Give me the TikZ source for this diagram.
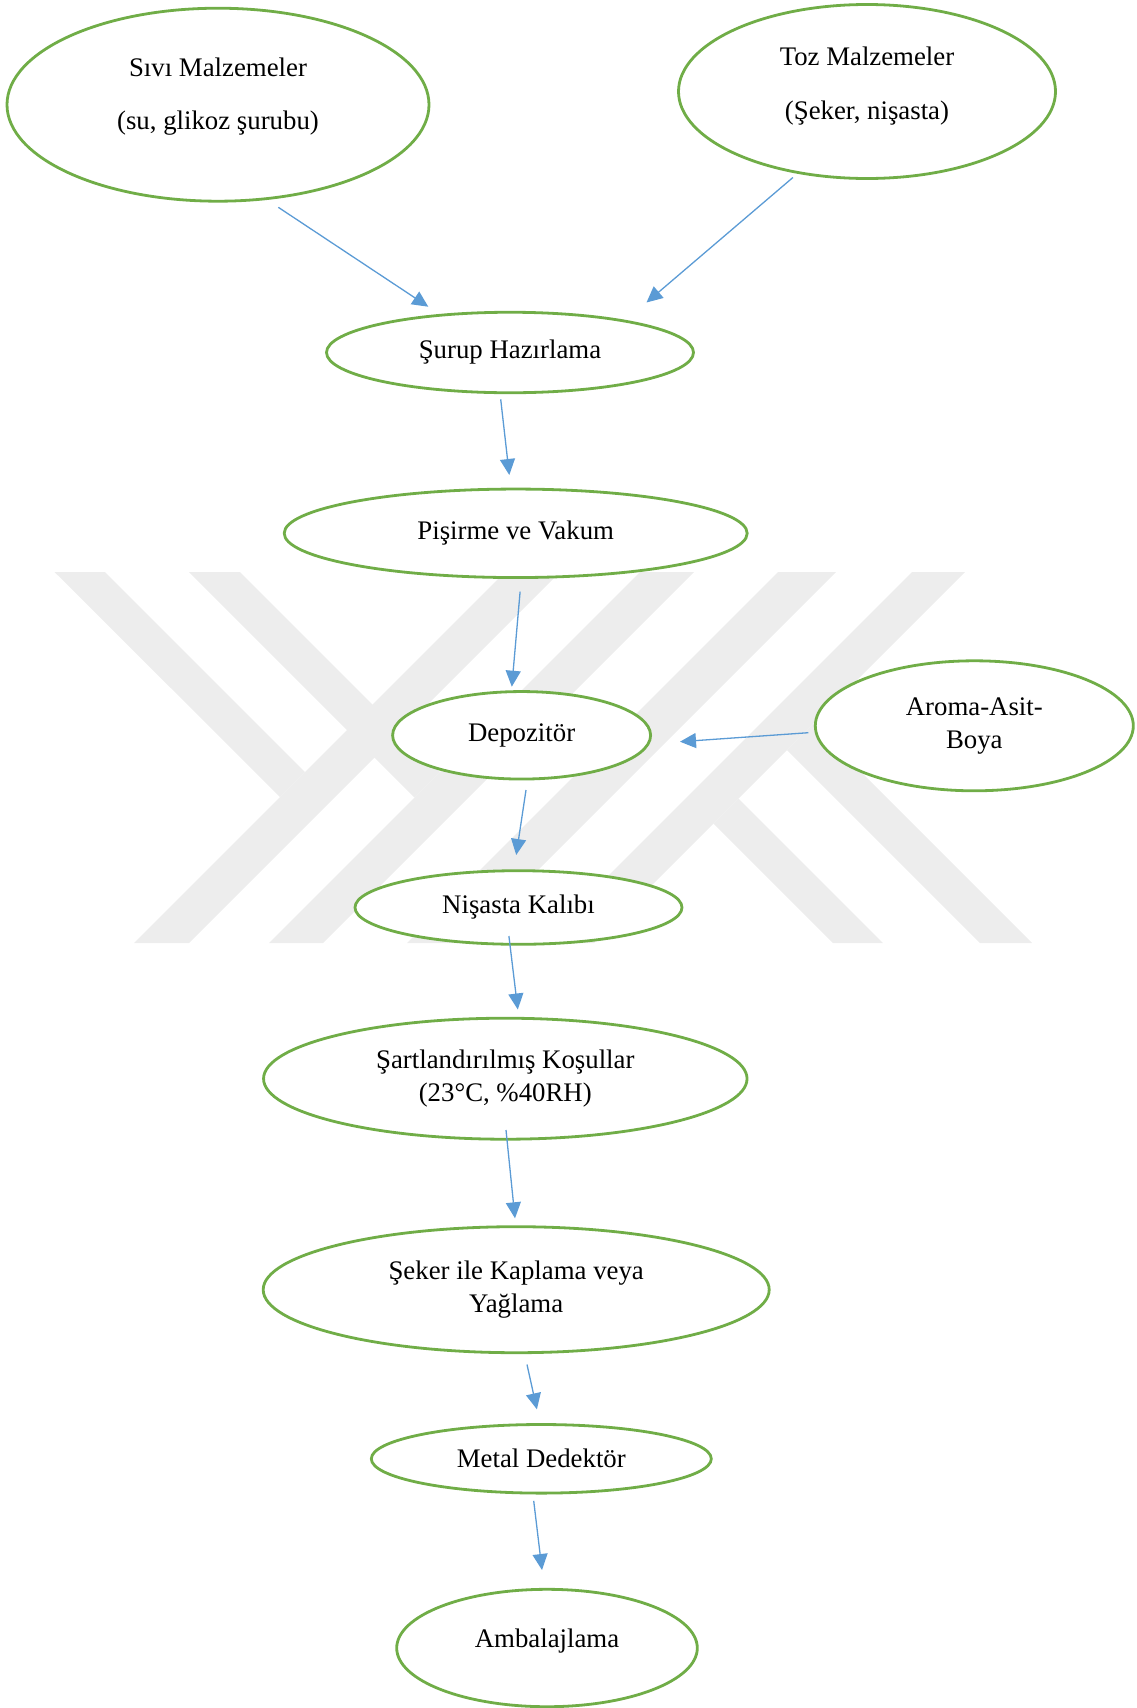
\documentclass[tikz,border=0pt]{standalone}
\usepackage{fontspec}
\setmainfont{Liberation Serif}
\usetikzlibrary{shapes.geometric,arrows.meta}
\definecolor{stageline}{HTML}{70AD47}
\definecolor{flowline}{HTML}{5B9BD5}
\colorlet{logo}{black!7}
\tikzset{
  stage/.style={ellipse,draw=stageline,line width=2.8pt,fill=white,inner sep=0pt,
    align=center,font=\fontsize{26.8}{32.7}\selectfont},
  flow/.style={-{Triangle[length=16pt,width=15pt]},draw=flowline,line width=1.3pt},
}

\begin{document}
\begin{tikzpicture}[x=1pt,y=-1pt]
  \path[use as bounding box] (0,0) rectangle (1137,1708);

  % watermark behind the chart
  \fill[logo] (54.5,572) -- (105,572) -- (305,772) -- (280,797) -- cycle;
  \fill[logo] (189,572) -- (240,572) -- (440,772) -- (414.5,797.5) -- cycle;
  \fill[logo] (505,572) -- (560,572) -- (189,943) -- (134,943) -- cycle;
  \fill[logo] (640,572) -- (694,572) -- (323,943) -- (269,943) -- cycle;
  \fill[logo] (778,572) -- (836,572) -- (465,943) -- (407,943) -- cycle;
  \fill[logo] (912,572) -- (965,572) -- (594,943) -- (541,943) -- cycle;
  \fill[logo] (738.5,798.5) -- (883,943) -- (833,943) -- (713.5,823.5) -- cycle;
  \fill[logo] (813,724) -- (1032,943) -- (980,943) -- (787,750) -- cycle;

  % stages
  \node[stage,minimum width=422,minimum height=193] (siv) at (218,104.7)
    {Sıvı Malzemeler\\[20.3pt](su, glikoz şurubu)\rule[-22pt]{0pt}{0pt}};
  \node[stage,minimum width=377,minimum height=174] (toz) at (867,91.5)
    {Toz Malzemeler\\[20.7pt](Şeker, nişasta)\rule[-17pt]{0pt}{0pt}};
  \node[stage,minimum width=367,minimum height=80.5] (surup) at (510,352.5) {Şurup Hazırlama};
  \node[stage,minimum width=463,minimum height=88.5] (pisirme) at (515.7,533.3) {Pişirme ve Vakum};
  \node[stage,minimum width=258,minimum height=87.5] (depo) at (521.6,735.3) {Depozitör};
  \node[stage,minimum width=318,minimum height=130] (aroma) at (974.3,725.8) {Aroma-Asit-\\Boya};
  \node[stage,minimum width=327,minimum height=73.6] (kalip) at (518.5,907.5) {Nişasta Kalıbı};
  \node[stage,minimum width=483.5,minimum height=121] (kosul) at (505.3,1078.7)
    {Şartlandırılmış Koşullar\\(23°C, \%40RH)};
  \node[stage,minimum width=506,minimum height=126] (kaplama) at (516.2,1289.7)
    {Şeker ile Kaplama veya\\Yağlama};
  \node[stage,minimum width=340,minimum height=68.6] (metal) at (541.3,1458.8) {Metal Dedektör};
  \node[stage,minimum width=300.6,minimum height=117.4] (ambalaj) at (547,1648)
    {Ambalajlama\rule[-20.5pt]{0pt}{0pt}};

  % arrow ends
  \coordinate (siv-out) at (278.3,207.3);
  \coordinate (toz-out) at (792.9,177.5);
  \coordinate (surup-in1) at (428.3,306.7);
  \coordinate (surup-in2) at (646.5,302.5);
  \coordinate (surup-out) at (500.7,399.3);
  \coordinate (pisirme-in) at (509.3,475);
  \coordinate (pisirme-out) at (520.1,591.7);
  \coordinate (depo-in1) at (511.8,686.7);
  \coordinate (aroma-out) at (808.3,732.7);
  \coordinate (depo-in2) at (680,741.7);
  \coordinate (depo-out) at (526,790);
  \coordinate (kalip-in) at (516.2,855);
  \coordinate (kalip-out) at (508.9,936);
  \coordinate (kosul-in) at (517.8,1009.5);
  \coordinate (kosul-out) at (506,1130);
  \coordinate (kaplama-in) at (515,1218.3);
  \coordinate (kaplama-out) at (527,1364.5);
  \coordinate (metal-in) at (536.9,1409.3);
  \coordinate (metal-out) at (533.7,1500.8);
  \coordinate (ambalaj-in) at (542,1570);

  \draw[flow] (siv-out) -- (surup-in1);
  \draw[flow] (toz-out) -- (surup-in2);
  \draw[flow] (surup-out) -- (pisirme-in);
  \draw[flow] (pisirme-out) -- (depo-in1);
  \draw[flow] (aroma-out) -- (depo-in2);
  \draw[flow] (depo-out) -- (kalip-in);
  \draw[flow] (kalip-out) -- (kosul-in);
  \draw[flow] (kosul-out) -- (kaplama-in);
  \draw[flow] (kaplama-out) -- (metal-in);
  \draw[flow] (metal-out) -- (ambalaj-in);
\end{tikzpicture}
\end{document}
